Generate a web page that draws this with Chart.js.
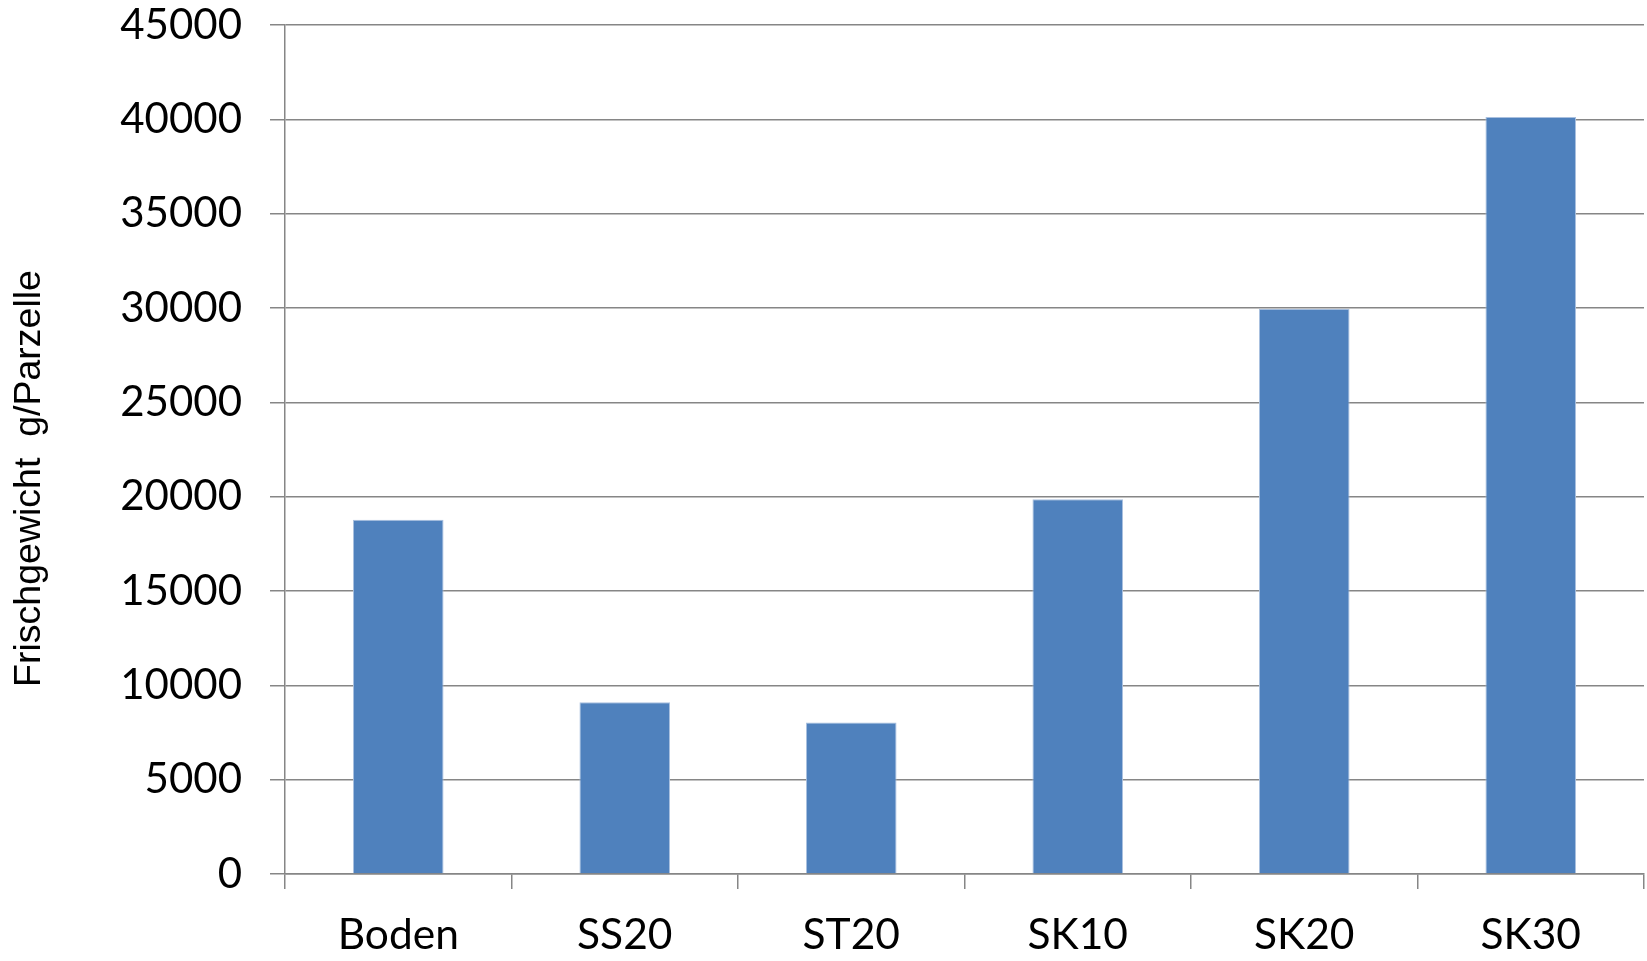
<!DOCTYPE html>
<html>
<head>
<meta charset="utf-8">
<script src="https://cdn.jsdelivr.net/npm/chart.js@4/dist/chart.umd.min.js"></script>
<style>
  html, body { margin: 0; padding: 0; background: #ffffff; }
  #wrap { width: 1647px; height: 961px; position: relative; }
</style>
</head>
<body>
<div id="wrap"><canvas id="chart"></canvas></div>
<script>
// Fresh weight per plot for each treatment
const categories = ['Boden', 'SS20', 'ST20', 'SK10', 'SK20', 'SK30'];
const freshWeight = [18780, 9100, 8030, 19860, 29960, 40120];
const yTicks = [0, 5000, 10000, 15000, 20000, 25000, 30000, 35000, 40000, 45000];
const yTitle = 'Frischgewicht  g/Parzelle';

const gridGray = '#868686';

// Rotated y-axis title drawn beside the value labels
const yTitlePlugin = {
  id: 'yTitle',
  afterDraw(chart) {
    const { ctx, chartArea } = chart;
    ctx.save();
    ctx.font = '37.5px "Liberation Sans", Arial, sans-serif';
    ctx.fillStyle = '#000000';
    ctx.textAlign = 'center';
    ctx.textBaseline = 'middle';
    ctx.translate(30, (chartArea.top + chartArea.bottom) / 2 + 29);
    ctx.rotate(-Math.PI / 2);
    ctx.fillText(yTitle, 0, 0);
    ctx.restore();
  }
};

new Chart(document.getElementById('chart'), {
  type: 'bar',
  data: {
    labels: categories,
    datasets: [{
      data: freshWeight,
      backgroundColor: '#4F81BD',
      borderColor: '#a9c0df',
      borderWidth: { top: 1, left: 1, right: 1, bottom: 0 },
      categoryPercentage: 1,
      barPercentage: 0.4
    }]
  },
  options: {
    responsive: true,
    maintainAspectRatio: false,
    animation: false,
    layout: { padding: { top: 25, right: 3, left: 0, bottom: 0 } },
    plugins: {
      legend: { display: false },
      tooltip: { enabled: false },
      title: { display: false }
    },
    scales: {
      x: {
        offset: true,
        grid: {
          offset: true,
          drawOnChartArea: false,
          drawTicks: true,
          tickLength: 15,
          color: gridGray,
          lineWidth: 1.5
        },
        border: { display: true, color: gridGray, width: 1.5 },
        ticks: {
          color: '#000000',
          padding: 21,
          font: { family: 'Lato, "Open Sans", sans-serif', size: 42.5 }
        },
        afterFit(scale) {
          scale.height = 87;
          scale.paddingLeft = 0;
          scale.paddingRight = 0;
        }
      },
      y: {
        min: 0,
        max: 45000,
        afterBuildTicks(scale) { scale.ticks = yTicks.map(v => ({ value: v })); },
        grid: {
          color: gridGray,
          lineWidth: 1.5,
          drawTicks: true,
          tickLength: 15
        },
        border: { display: true, color: gridGray, width: 1.5 },
        ticks: {
          color: '#000000',
          padding: 28,
          font: { family: 'Lato, "Open Sans", sans-serif', size: 42 },
          callback: (v) => String(v)
        },
        afterFit(scale) {
          scale.width = 285;
          scale.paddingTop = 0;
          scale.paddingBottom = 0;
        }
      }
    }
  },
  plugins: [yTitlePlugin]
});
</script>
</body>
</html>
